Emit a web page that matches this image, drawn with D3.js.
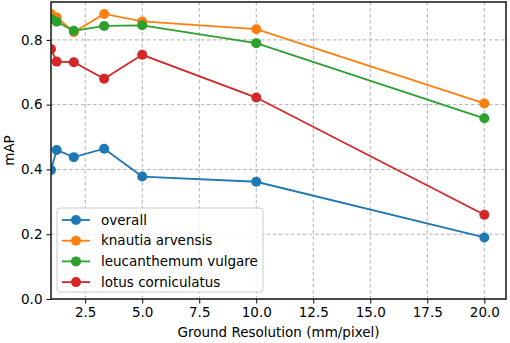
<!DOCTYPE html>
<html><head><meta charset="utf-8">
<script src="https://cdn.jsdelivr.net/npm/d3@7"></script>
<style>body{margin:0;background:#fff}svg{display:block}text{font-family:"DejaVu Sans",sans-serif}</style>
</head><body>
<script>
const xValues = [1, 1.25, 2, 3.33, 5, 10, 20];
const overall = [0.398, 0.46, 0.438, 0.464, 0.378, 0.362, 0.19];
const knautia = [0.88, 0.87, 0.824, 0.88, 0.857, 0.833, 0.604];
const leucanthemum = [0.865, 0.856, 0.828, 0.843, 0.845, 0.79, 0.558];
const lotus = [0.772, 0.733, 0.731, 0.68, 0.754, 0.622, 0.26];
const seriesNames = ["overall", "knautia arvensis", "leucanthemum vulgare", "lotus corniculatus"];
const colors = ["#1f77b4", "#ff7f0e", "#2ca02c", "#d62728"];
const xTicks = [2.5, 5.0, 7.5, 10.0, 12.5, 15.0, 17.5, 20.0];
const yTicks = [0.0, 0.2, 0.4, 0.6, 0.8];
const series = [overall, knautia, leucanthemum, lotus];

const W = 510, H = 343;
const FS = 13.5;
const m = {left: 51, right: 4, top: 2, bottom: 44};
const svg = d3.select("body").append("svg").attr("width", W).attr("height", H);
const x = d3.scaleLinear().domain([1, 20.95]).range([m.left, W - m.right]);
const y = d3.scaleLinear().domain([0, 0.917]).range([H - m.bottom, m.top]);

svg.append("defs").append("clipPath").attr("id", "clip")
  .append("rect").attr("x", m.left).attr("y", m.top)
  .attr("width", W - m.right - m.left).attr("height", H - m.bottom - m.top);

// grid
const grid = svg.append("g");
grid.selectAll("line.gx").data(xTicks).join("line")
  .attr("x1", d => x(d)).attr("x2", d => x(d))
  .attr("y1", m.top).attr("y2", H - m.bottom)
  .attr("stroke", "#b0b0b0").attr("stroke-width", 1).attr("stroke-dasharray", "3.5,2.5");
grid.selectAll("line.gy").data(yTicks).join("line")
  .attr("x1", m.left).attr("x2", W - m.right)
  .attr("y1", d => y(d)).attr("y2", d => y(d))
  .attr("stroke", "#b0b0b0").attr("stroke-width", 1).attr("stroke-dasharray", "3.5,2.5");

// series
const plot = svg.append("g").attr("clip-path", "url(#clip)");
const line = d3.line().x((d, i) => x(xValues[i])).y(d => y(d));
series.forEach((s, k) => {
  plot.append("path").datum(s).attr("d", line)
    .attr("fill", "none").attr("stroke", colors[k]).attr("stroke-width", 1.8);
  plot.selectAll(null).data(s).join("circle")
    .attr("cx", (d, i) => x(xValues[i])).attr("cy", d => y(d)).attr("r", 5)
    .attr("fill", colors[k]);
});

// axes
const xAxis = d3.axisBottom(x).tickValues(xTicks).tickFormat(d3.format(".1f")).tickSize(4.5).tickPadding(4);
const yAxis = d3.axisLeft(y).tickValues(yTicks).tickFormat(d3.format(".1f")).tickSize(4.5).tickPadding(4);
const gx = svg.append("g").attr("transform", `translate(0,${H - m.bottom})`).call(xAxis);
const gy = svg.append("g").attr("transform", `translate(${m.left},0)`).call(yAxis);
[gx, gy].forEach(g => {
  g.select(".domain").remove();
  g.selectAll("text").attr("font-size", FS).attr("fill", "#000").attr("font-family", "DejaVu Sans");
  g.selectAll("line").attr("stroke", "#000").attr("stroke-width", 1);
});
svg.append("rect").attr("x", m.left).attr("y", m.top)
  .attr("width", W - m.right - m.left).attr("height", H - m.bottom - m.top)
  .attr("fill", "none").attr("stroke", "#222").attr("stroke-width", 1.6);

// labels
svg.append("text").attr("x", (m.left + W - m.right) / 2).attr("y", 337)
  .attr("text-anchor", "middle").attr("font-size", FS).text("Ground Resolution (mm/pixel)");
svg.append("text").attr("transform", `translate(14,${(m.top + H - m.bottom) / 2}) rotate(-90)`)
  .attr("text-anchor", "middle").attr("font-size", FS).text("mAP");

// legend
const lg = svg.append("g").attr("transform", "translate(57,208)");
lg.append("rect").attr("width", 206).attr("height", 84).attr("rx", 3)
  .attr("fill", "#fff").attr("fill-opacity", 0.8).attr("stroke", "#cccccc");
seriesNames.forEach((n, k) => {
  const yy = 12 + k * 20.7;
  lg.append("line").attr("x1", 5).attr("x2", 33).attr("y1", yy).attr("y2", yy)
    .attr("stroke", colors[k]).attr("stroke-width", 1.8);
  lg.append("circle").attr("cx", 19).attr("cy", yy).attr("r", 5).attr("fill", colors[k]);
  lg.append("text").attr("x", 44).attr("y", yy).attr("dy", "0.35em")
    .attr("font-size", FS).text(n);
});
</script>
</body></html>
